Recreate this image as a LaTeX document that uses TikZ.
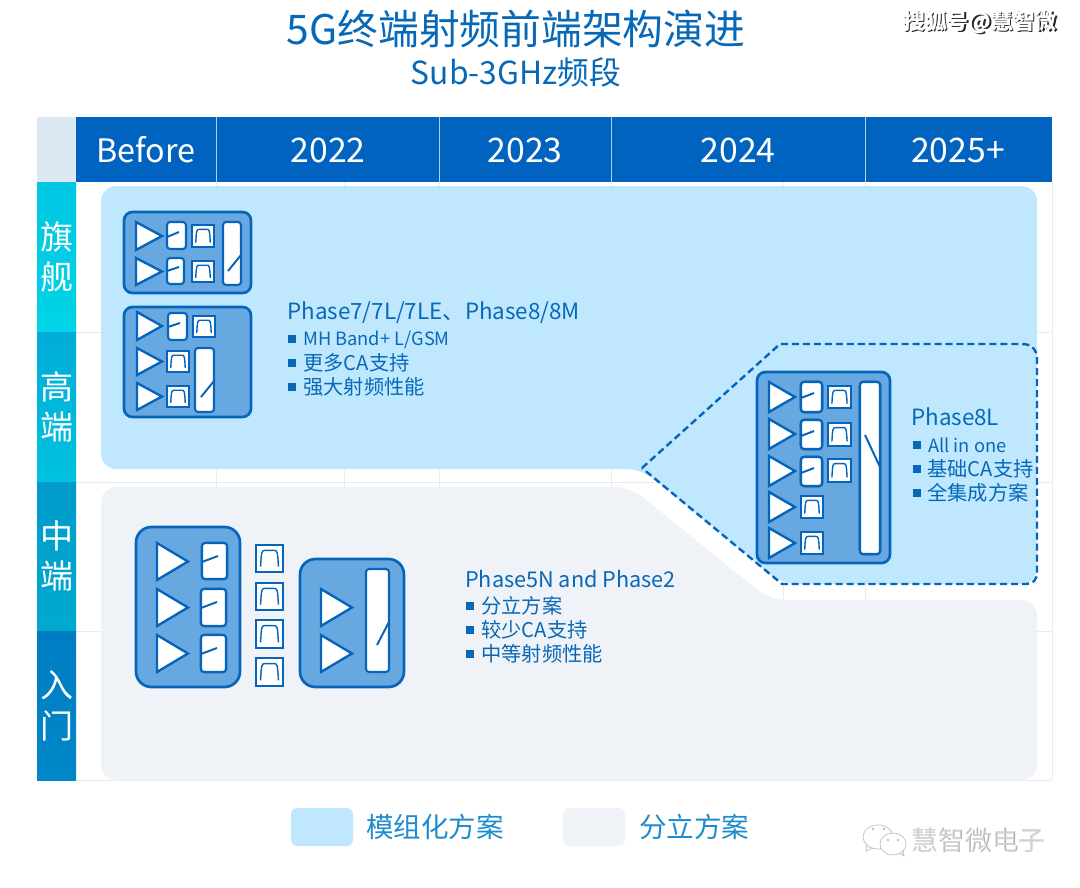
\documentclass[tikz,border=0pt]{standalone}
\usepackage{fontspec}
\setmainfont{Noto Sans CJK SC}
\definecolor{headblue}{RGB}{0,99,191}
\definecolor{textblue}{RGB}{8,104,184}
\definecolor{lineblue}{RGB}{6,100,186}
\definecolor{moduleblue}{RGB}{104,168,224}
\definecolor{regionblue}{RGB}{191,232,255}
\definecolor{regiongray}{RGB}{239,242,246}
\definecolor{cornerblue}{RGB}{220,232,244}
\definecolor{gridgray}{RGB}{234,236,238}
\definecolor{legendblue}{RGB}{30,140,205}
\definecolor{rowa}{RGB}{0,198,226}
\definecolor{rowb}{RGB}{0,212,230}
\definecolor{rowc}{RGB}{0,172,216}
\definecolor{rowd}{RGB}{0,194,222}
\definecolor{rowe}{RGB}{0,154,204}
\definecolor{rowf}{RGB}{0,170,206}
\definecolor{rowg}{RGB}{0,124,194}
\definecolor{rowh}{RGB}{0,136,200}
\tikzset{
  modulebox/.style={draw=lineblue, line width=1.9pt, fill=moduleblue, rounded corners=6pt},
  amptri/.style={draw=lineblue, line width=1.7pt, fill=white, line join=miter},
  swbox/.style={draw=lineblue, line width=1.5pt, fill=white, rounded corners=2.2pt},
  swline/.style={draw=lineblue, line width=1.4pt},
  filtbox/.style={draw=lineblue, line width=1.6pt, fill=white},
  filtline/.style={draw=lineblue, line width=1pt},
  yearcell/.style={fill=headblue, text=white, font=\fontsize{24}{24}\selectfont},
  rowcell/.style={text=white, font=\fontsize{23.5}{29}\selectfont, align=center},
  phasetitle/.style={text=textblue, anchor=west, inner sep=0pt, font=\fontsize{15.9}{19}\selectfont},
  phaseitem/.style={text=textblue, anchor=west, inner sep=0pt, font=\fontsize{14.4}{17}\selectfont},
  latinitem/.style={phaseitem, font=\fontsize{13}{17}\selectfont},
  bulletsq/.style={fill=textblue},
  legendtext/.style={text=legendblue, anchor=west, inner sep=0pt, font=\fontsize{19.6}{24}\selectfont},
  marktext/.style={inner sep=0pt, font=\fontsize{15.5}{18}\bfseries\selectfont},
}
% amplifier: left, top, right, bottom
\newcommand{\ampl}[4]{\draw[amptri] (#1,#2) -- (#3,{(#2+#4)/2}) -- (#1,#4) -- cycle;}
% switch box: left, top, right, bottom
\newcommand{\swbody}[4]{\draw[swbox] (#1,#2) rectangle (#3,#4);}
% filter: left, top, right, bottom
\newcommand{\filt}[4]{
  \draw[filtbox] (#1,#2) rectangle (#3,#4);
  \draw[filtline] ({#1+0.17*(#3-#1)},{#4-0.2*(#4-#2)})
    .. controls ({#1+0.2*(#3-#1)},{#2+0.2*(#4-#2)}) and ({#1+0.22*(#3-#1)},{#2+0.2*(#4-#2)}) .. ({#1+0.34*(#3-#1)},{#2+0.2*(#4-#2)})
    -- ({#1+0.66*(#3-#1)},{#2+0.2*(#4-#2)})
    .. controls ({#1+0.78*(#3-#1)},{#2+0.2*(#4-#2)}) and ({#1+0.8*(#3-#1)},{#2+0.2*(#4-#2)}) .. ({#1+0.83*(#3-#1)},{#4-0.2*(#4-#2)});
}
% one bullet of a text block: x, y
\newcommand{\phasebullet}[2]{\fill[bulletsq] (#1,{#2-4}) rectangle ++(8,8);}
\begin{document}
\begin{tikzpicture}[x=0.025cm,y=-0.025cm]
\useasboundingbox (0,0) rectangle (1080,888);
\fill[white] (0,0) rectangle (1080,888);

% title
\node[text=textblue, font=\fontsize{29}{34}\selectfont] (title) at (516,29) {5G终端射频前端架构演进};
\node[text=textblue, font=\fontsize{22.6}{27}\selectfont] (subtitle) at (516,72) {Sub-3GHz频段};

% grid behind the regions
\foreach \x in {216,344,439,611,783,865}
  \draw[gridgray, line width=0.6pt] (\x,182) -- (\x,780);
\foreach \y in {332,482,631,780}
  \draw[gridgray, line width=0.6pt] (76,\y) -- (1052,\y);
\draw[gridgray, line width=0.6pt] (1052,182) -- (1052,780);

% header row
\fill[cornerblue] (37,117) rectangle (76,182);
\fill[headblue] (76,117) rectangle (1052,182);
\node[yearcell, font=\fontsize{23}{24}\selectfont] (before) at (146,150) {Before};
\node[yearcell] (y2022) at (328,150) {2022};
\node[yearcell] (y2023) at (525,150) {2023};
\node[yearcell] (y2024) at (738,150) {2024};
\node[yearcell] (y2025) at (958,150) {2025+};
\foreach \x in {216,439,611,865}
  \draw[white!70!headblue, line width=0.5pt] (\x,117) -- (\x,182);

% row labels
\fill[top color=rowa, bottom color=rowb] (37,182) rectangle (76,332);
\fill[top color=rowc, bottom color=rowd] (37,332) rectangle (76,482);
\fill[top color=rowe, bottom color=rowf] (37,482) rectangle (76,631);
\fill[top color=rowg, bottom color=rowh] (37,631) rectangle (76,780);
\node[rowcell] (flagship) at (57,257) {旗\\舰};
\node[rowcell] (highend) at (57,407) {高\\端};
\node[rowcell] (midrange) at (57,556) {中\\端};
\node[rowcell] (entry) at (57,706) {入\\门};

% module and discrete regions
\fill[regiongray, rounded corners=11pt] (101,487) -- (630,487) -- (770,600) -- (1037,600) -- (1037,780) -- (101,780) -- cycle;
\fill[regionblue, rounded corners=11pt] (101,186) -- (1037,186) -- (1037,584) -- (782,584) -- (642,469) [sharp corners] -- (640,469) [rounded corners=11pt] -- (101,469) -- cycle;
\draw[lineblue, line width=1.7pt, dash pattern=on 5pt off 2.8pt] (642,468) -- (780,344) -- (1022,344) .. controls (1032,344) and (1037,350) .. (1037,359) -- (1037,572) .. controls (1037,580) and (1033,584) .. (1026,584) -- (782,584) -- cycle;

% first module, two paths
\draw[modulebox] (124,212) rectangle (251,293);
\ampl{136}{222}{162}{250}
\ampl{136}{258}{162}{285}
\swbody{167}{222}{186}{249}
\swbody{167}{258}{184}{284}
\draw[swline] (167,237) -- (179,232);
\draw[swline] (167,271) -- (179,267);
\filt{192}{225}{214}{247}
\filt{192}{261}{214}{282}
\swbody{223}{222}{241}{285}
\draw[swline] (228,271) -- (241,255);

% second module, three paths
\draw[modulebox] (124,307) rectangle (251,417);
\ampl{137}{312}{162}{340}
\ampl{137}{348}{162}{375}
\ampl{137}{383}{162}{410}
\swbody{168}{313}{187}{340}
\draw[swline] (168,327) -- (180,323);
\filt{193}{316}{215}{337}
\filt{167}{351}{189}{372}
\filt{167}{386}{189}{407}
\swbody{195}{348}{214}{412}
\draw[swline] (201,397) -- (214,381);

% text of the module region
\node[phasetitle] (phasea) at (287,313) {Phase7/7L/7LE、Phase8/8M};
\phasebullet{288}{339}
\node[latinitem] (phaseaa) at (303,340) {MH Band+ L/GSM};
\phasebullet{288}{363}
\node[phaseitem] (phaseab) at (303,363) {更多CA支持};
\phasebullet{288}{387}
\node[phaseitem] (phaseac) at (303,387) {强大射频性能};

% all-in-one module
\draw[modulebox] (757,372) rectangle (890,563);
\foreach \t/\b in {382/412,419/449,456/486,492/522,528/558}
  \ampl{769}{\t}{795}{\b}
\foreach \t/\b in {382/412,420/449,457/486}{
  \swbody{801}{\t}{822}{\b}
  \draw[swline] (801,\t+16) -- (814,\t+11);
}
\filt{828}{386}{851}{408}
\filt{828}{423}{851}{446}
\filt{828}{459}{851}{482}
\filt{801}{496}{823}{518}
\filt{801}{532}{823}{554}
\swbody{860}{382}{880}{554}
\draw[swline] (865,435) -- (880,467);

\node[phasetitle] (phaseb) at (911,417) {Phase8L};
\phasebullet{913}{445}
\node[latinitem] (phaseba) at (928,445) {All in one};
\phasebullet{913}{469}
\node[phaseitem] (phasebb) at (927,469) {基础CA支持};
\phasebullet{913}{493}
\node[phaseitem] (phasebc) at (927,493) {全集成方案};

% discrete parts
\draw[modulebox, rounded corners=11pt] (136,527) rectangle (240,687);
\foreach \t/\b in {543/580,589/626,635/672}
  \ampl{157}{\t}{188}{\b}
\swbody{202}{543}{227}{579}
\swbody{201}{589}{226}{626}
\swbody{201}{635}{226}{672}
\draw[swline] (202,562) -- (218,556);
\draw[swline] (201,608) -- (217,602);
\draw[swline] (201,654) -- (217,648);
\filt{256}{545}{283}{572}
\filt{256}{583}{283}{610}
\filt{256}{620}{283}{648}
\filt{256}{658}{283}{686}
\draw[modulebox, rounded corners=11pt] (300,559) rectangle (404,687);
\ampl{321}{589}{352}{626}
\ampl{321}{635}{352}{672}
\swbody{366}{569}{389}{672}
\draw[swline] (377,645) -- (389,622);

\node[phasetitle, font=\fontsize{15.4}{19}\selectfont] (phasec) at (465,579) {Phase5N and Phase2};
\phasebullet{466}{606}
\node[phaseitem] (phaseca) at (481,606) {分立方案};
\phasebullet{466}{630}
\node[phaseitem] (phasecb) at (481,630) {较少CA支持};
\phasebullet{466}{654}
\node[phaseitem] (phasecc) at (481,654) {中等射频性能};

% legend
\fill[regionblue, rounded corners=4pt] (291,808) rectangle (353,846);
\node[legendtext] (legenda) at (366,827) {模组化方案};
\fill[regiongray, rounded corners=4pt] (563,808) rectangle (625,846);
\node[legendtext] (legendb) at (639,827) {分立方案};

% marks in the corners
\node[marktext, text=black!85] (marka) at (981.5,23) {搜狐号@慧智微};
\node[marktext, text=white] (markb) at (980,22) {搜狐号@慧智微};
\draw[black!25, line width=0.5pt, fill=white] (878,837) ellipse (15 and 12);
\draw[black!25, line width=0.5pt] (867,845) -- (866,851) -- (873,848);
\draw[black!25, line width=0.5pt, fill=white] (893,844) ellipse (13 and 11);
\draw[black!25, line width=0.5pt] (900,853) -- (904,856) -- (903,850);
\fill[black!25] (873,829) circle (1.3) (884,829) circle (1.3) (888,840) circle (1.3) (898,840) circle (1.3);
\node[inner sep=0pt, text=black!32, font=\fontsize{19}{23}\selectfont] (markc) at (978.7,840.7) {慧智微电子};
\node[inner sep=0pt, text=white, opacity=0.45, font=\fontsize{19}{23}\selectfont] (markd) at (978,840) {慧智微电子};
\end{tikzpicture}
\end{document}
